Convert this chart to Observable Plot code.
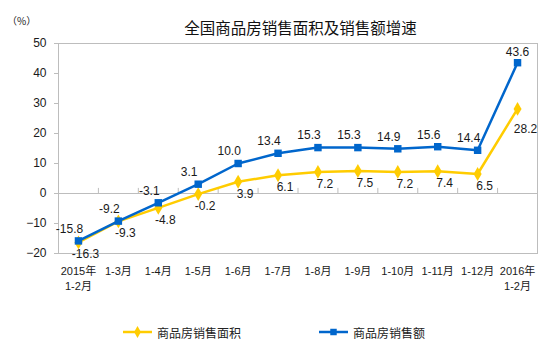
<!DOCTYPE html>
<html><head><meta charset="utf-8">
<script src="https://cdn.jsdelivr.net/npm/d3@7"></script>
<script src="https://cdn.jsdelivr.net/npm/@observablehq/plot@0.6"></script>
<style>
body{margin:0;background:#fff;font-family:"Liberation Sans","Noto Sans CJK SC",sans-serif;}
#wrap{position:relative;width:554px;height:353px;}
#title{position:absolute;left:0;width:554px;top:17px;text-align:center;padding-left:47px;box-sizing:border-box;font-family:"Noto Sans CJK SC",sans-serif;font-size:15.5px;color:#111;line-height:20px;}
#unit{position:absolute;left:7px;top:13px;font-size:10px;color:#222;font-family:"Noto Sans CJK SC",sans-serif;}
.leg{position:absolute;top:323px;height:18px;display:flex;align-items:center;font-family:"Noto Sans CJK SC",sans-serif;font-size:12px;color:#222;}
.leg svg{margin-right:4px;}
</style></head>
<body><div id="wrap"><div id="title"></div><div id="unit">（%）</div>
<div class="leg" id="leg1" style="left:123px"></div><div class="leg" id="leg2" style="left:319px"></div></div>
<script>
const categories = ["2015年\n1-2月","1-3月","1-4月","1-5月","1-6月","1-7月","1-8月","1-9月","1-10月","1-11月","1-12月","2016年\n1-2月"];
const areaGrowth = [-16.3,-9.3,-4.8,-0.2,3.9,6.1,7.2,7.5,7.2,7.4,6.5,28.2];
const salesGrowth = [-15.8,-9.2,-3.1,3.1,10.0,13.4,15.3,15.3,14.9,15.6,14.4,43.6];
const yTicks = [-20,-10,0,10,20,30,40,50];
const seriesNames = ["商品房销售面积","商品房销售额"];
const titleText = "全国商品房销售面积及销售额增速";
const yellow = "#FFCC00", blue = "#0066CC";

document.getElementById("title").textContent = titleText;

const area = areaGrowth.map((v,i)=>({i,v}));
const sales = salesGrowth.map((v,i)=>({i,v}));
const idx = d3.range(categories.length);
const bounds = d3.range(categories.length-1).map(i=>i+0.5);
const lastI = categories.length-1;

const plot = Plot.plot({
  width:554, height:353,
  marginTop:43, marginBottom:100, marginLeft:58, marginRight:17,
  style:{fontFamily:'"Liberation Sans","Noto Sans CJK SC",sans-serif', fontSize:"12px", color:"#1a1a1a", background:"transparent"},
  x:{type:"linear", domain:[-0.5, categories.length-0.5]},
  y:{domain:[-20,50]},
  marks:[
    Plot.frame({stroke:"#bdbdbd"}),
    Plot.ruleY([0],{stroke:"#bdbdbd"}),
    Plot.ruleX(bounds,{y1:0,y2:1.7,stroke:"#bdbdbd"}),
    Plot.axisY({ticks:yTicks, tickSize:4, tickPadding:8, stroke:"#bdbdbd", fill:"#1a1a1a", label:null, fontSize:12}),
    Plot.axisX({ticks:idx, tickSize:0, tickPadding:11, tickFormat:i=>categories[i], label:null, fill:"#1a1a1a", fontSize:11, lineHeight:1.35}),
    Plot.line(area,{x:"i",y:"v",stroke:yellow,strokeWidth:2.5}),
    Plot.dot(area,{x:"i",y:"v",symbol:"diamond",fill:yellow,r:4.2}),
    Plot.line(sales,{x:"i",y:"v",stroke:blue,strokeWidth:2.5}),
    Plot.dot(sales,{x:"i",y:"v",symbol:"square",fill:blue,r:4.2}),
    Plot.text(sales.filter(d=>d.i<lastI),{x:"i",y:"v",text:d=>d.v.toFixed(1),dx:-9,dy:-12,fill:"#1a1a1a",fontSize:12}),
    Plot.text(sales.filter(d=>d.i===lastI),{x:"i",y:"v",text:d=>d.v.toFixed(1),dy:-11,fill:"#1a1a1a",fontSize:12}),
    Plot.text(area.filter(d=>d.i<lastI),{x:"i",y:"v",text:d=>d.v.toFixed(1),dx:7,dy:12,fill:"#1a1a1a",fontSize:12}),
    Plot.text(area.filter(d=>d.i===lastI),{x:"i",y:"v",text:d=>d.v.toFixed(1),dx:8,dy:20,fill:"#1a1a1a",fontSize:12})
  ]
});
plot.style.position="absolute"; plot.style.left="0"; plot.style.top="0";
document.getElementById("wrap").prepend(plot);

function legendItem(id, color, sym, name){
  const el = document.getElementById(id);
  const s = d3.create("svg").attr("width",30).attr("height",12);
  s.append("line").attr("x1",0).attr("x2",29).attr("y1",6).attr("y2",6).attr("stroke",color).attr("stroke-width",2.5);
  s.append("path").attr("transform","translate(14.5,6)").attr("d",d3.symbol(sym, sym===d3.symbolSquare?42:40)()).attr("fill",color);
  el.append(s.node());
  const t = document.createElement("span"); t.textContent = name; el.append(t);
}
legendItem("leg1", yellow, d3.symbolDiamond, seriesNames[0]);
legendItem("leg2", blue, d3.symbolSquare, seriesNames[1]);
</script></body></html>
